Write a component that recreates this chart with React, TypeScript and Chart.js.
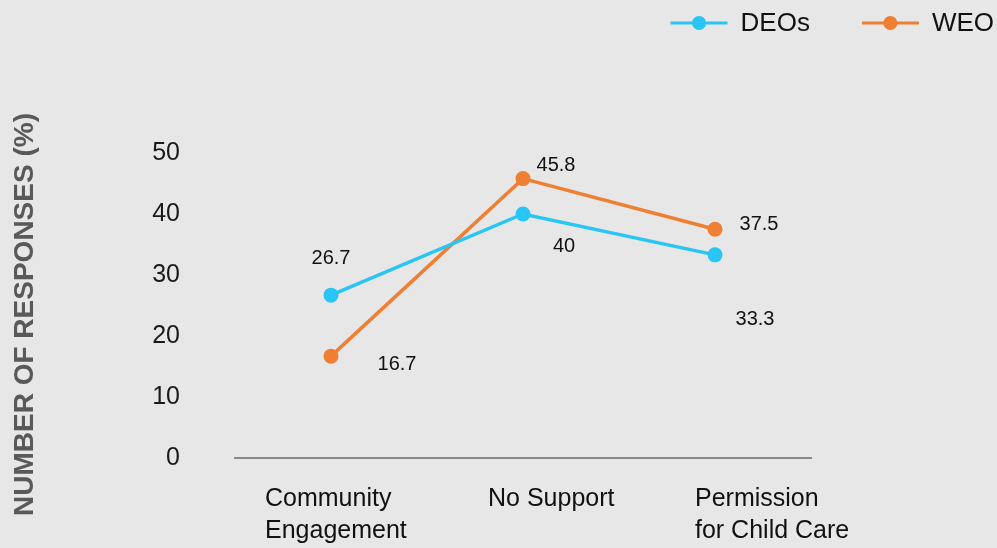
import React, { useEffect, useRef } from "react";
import { Chart, registerables } from "chart.js";

Chart.register(...registerables);

// ---- data ----
const categories = ["Community Engagement", "No Support", "Permission for Child Care"];
const categoryLines = [["Community", "Engagement"], ["No Support"], ["Permission", "for Child Care"]];
const seriesNames = ["DEOs", "WEO"];
const deosValues = [26.7, 40, 33.3];
const weoValues = [16.7, 45.8, 37.5];
const yTicks = [0, 10, 20, 30, 40, 50];
const yTitle = "NUMBER OF RESPONSES (%)";

// ---- styles ----
const BG = "#e7e7e7";
const BLUE = "#29c5f4";
const ORANGE = "#ef7f32";
const FONT = "'Liberation Sans', Arial, Helvetica, sans-serif";
// data label offsets (px) relative to point: [dataset][index]
const labelOffsets = [
  [[0, -37], [41, 32], [40, 65]],
  [[66, 8], [33, -13], [44, -5]],
];
// x label horizontal offset of left edge relative to category center
const xLabelDx = [-66, -35, -20];

const dataLabelPlugin = {
  id: "dataLabels",
  afterDatasetsDraw(chart: any) {
    const ctx = chart.ctx;
    ctx.save();
    ctx.font = `20px ${FONT}`;
    ctx.fillStyle = "#111";
    ctx.textAlign = "center";
    ctx.textBaseline = "middle";
    chart.data.datasets.forEach((ds: any, di: number) => {
      const meta = chart.getDatasetMeta(di);
      meta.data.forEach((pt: any, i: number) => {
        const [dx, dy] = labelOffsets[di][i];
        ctx.fillText(String(ds.data[i]), pt.x + dx, pt.y + dy);
      });
    });
    ctx.restore();
  },
};

const xLabelPlugin = {
  id: "xLabels",
  afterDraw(chart: any) {
    const ctx = chart.ctx;
    const xs = chart.scales.x;
    const bottom = chart.chartArea.bottom;
    ctx.save();
    ctx.font = `25px ${FONT}`;
    ctx.fillStyle = "#111";
    ctx.textAlign = "left";
    ctx.textBaseline = "alphabetic";
    categoryLines.forEach((lines, i) => {
      const x = xs.getPixelForValue(i) + xLabelDx[i];
      lines.forEach((ln, li) => {
        ctx.fillText(ln, x, bottom + 48 + li * 32);
      });
    });
    ctx.restore();
  },
};

const yTitlePlugin = {
  id: "yTitle",
  afterDraw(chart: any) {
    const ctx = chart.ctx;
    const area = chart.chartArea;
    ctx.save();
    ctx.font = `bold 28px ${FONT}`;
    ctx.fillStyle = "#595959";
    ctx.textAlign = "center";
    ctx.textBaseline = "middle";
    ctx.translate(25, (area.top + area.bottom) / 2 + 9);
    ctx.rotate(-Math.PI / 2);
    ctx.fillText(yTitle, 0, 0);
    ctx.restore();
  },
};

const legendPlugin = {
  id: "customLegend",
  afterDraw(chart: any) {
    const ctx = chart.ctx;
    ctx.save();
    ctx.font = `26px ${FONT}`;
    ctx.textBaseline = "middle";
    ctx.textAlign = "left";
    const y = 23;
    let x = 994;
    const items = chart.data.datasets.map((d: any) => ({ label: d.label, color: d.borderColor }));
    for (let k = items.length - 1; k >= 0; k--) {
      const it = items[k];
      const tw = ctx.measureText(it.label).width;
      const textStart = x - tw;
      const lineEnd = textStart - 13;
      const lineStart = lineEnd - 57;
      ctx.strokeStyle = it.color;
      ctx.lineWidth = 3;
      ctx.beginPath();
      ctx.moveTo(lineStart, y);
      ctx.lineTo(lineEnd, y);
      ctx.stroke();
      ctx.fillStyle = it.color;
      ctx.beginPath();
      ctx.arc((lineStart + lineEnd) / 2, y, 7, 0, Math.PI * 2);
      ctx.fill();
      ctx.fillStyle = "#111";
      ctx.fillText(it.label, textStart, y + 1);
      x = lineStart - 52;
    }
    ctx.restore();
  },
};

export default function App() {
  const ref = useRef<HTMLCanvasElement | null>(null);
  useEffect(() => {
    if (!ref.current) return;
    const chart = new Chart(ref.current, {
      type: "line",
      data: {
        labels: categories,
        datasets: [
          {
            label: seriesNames[0],
            data: deosValues,
            borderColor: BLUE,
            backgroundColor: BLUE,
            pointBackgroundColor: BLUE,
            borderWidth: 3.5,
            pointRadius: 7.5,
            pointBorderWidth: 0,
            tension: 0,
          },
          {
            label: seriesNames[1],
            data: weoValues,
            borderColor: ORANGE,
            backgroundColor: ORANGE,
            pointBackgroundColor: ORANGE,
            borderWidth: 3.5,
            pointRadius: 7.5,
            pointBorderWidth: 0,
            tension: 0,
          },
        ],
      },
      options: {
        responsive: false,
        animation: false,
        layout: { padding: { top: 153, right: 186, left: 0, bottom: 0 } },
        plugins: {
          legend: { display: false },
          tooltip: { enabled: false },
        },
        scales: {
          x: {
            type: "category",
            offset: true,
            grid: { display: false },
            border: { display: true, color: "#8a8a8a", width: 2 },
            ticks: { display: false },
            afterFit: (s: any) => {
              s.height = 90;
            },
          },
          y: {
            min: 0,
            max: 50,
            afterBuildTicks: (s: any) => {
              s.ticks = yTicks.map((v) => ({ value: v }));
            },
            grid: { display: false, drawTicks: false },
            border: { display: false },
            ticks: {
              font: { size: 25, family: FONT },
              color: "#1a1a1a",
              padding: 55,
            },
            title: { display: false, text: yTitle },
            afterFit: (s: any) => {
              s.width = 235;
            },
          },
        },
      },
      plugins: [dataLabelPlugin, xLabelPlugin, yTitlePlugin, legendPlugin],
    } as any);
    return () => chart.destroy();
  }, []);
  return (
    <div style={{ position: "absolute", left: 0, top: 0, width: 997, height: 548, background: BG }}>
      <canvas ref={ref} width={997} height={548} />
    </div>
  );
}
